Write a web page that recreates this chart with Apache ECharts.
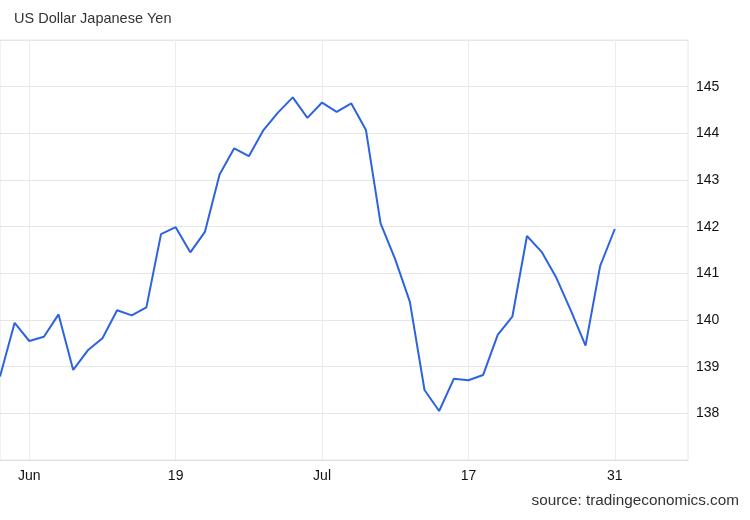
<!DOCTYPE html>
<html>
<head>
<meta charset="utf-8">
<script src="https://cdn.jsdelivr.net/npm/echarts@6/dist/echarts.min.js"></script>
<style>
  html, body { margin: 0; padding: 0; background: #fff; }
  #chart { width: 750px; height: 520px; }
</style>
</head>
<body>
<div id="chart"></div>
<script>
// Trading days (2023), plus empty slots to the right of the last point
const categories = [
  '2023-06-01','2023-06-02',
  '2023-06-05','2023-06-06','2023-06-07','2023-06-08','2023-06-09',
  '2023-06-12','2023-06-13','2023-06-14','2023-06-15','2023-06-16',
  '2023-06-19','2023-06-20','2023-06-21','2023-06-22','2023-06-23',
  '2023-06-26','2023-06-27','2023-06-28','2023-06-29','2023-06-30',
  '2023-07-03','2023-07-04','2023-07-05','2023-07-06','2023-07-07',
  '2023-07-10','2023-07-11','2023-07-12','2023-07-13','2023-07-14',
  '2023-07-17','2023-07-18','2023-07-19','2023-07-20','2023-07-21',
  '2023-07-24','2023-07-25','2023-07-26','2023-07-27','2023-07-28',
  '2023-07-31',
  '2023-08-01','2023-08-02','2023-08-03','2023-08-04','2023-08-07'
];
const usdjpy = [
  138.79, 139.94,
  139.55, 139.64, 140.12, 138.93, 139.35,
  139.61, 140.21, 140.10, 140.27, 141.84,
  141.99, 141.45, 141.89, 143.12, 143.68,
  143.51, 144.07, 144.45, 144.77, 144.33,
  144.66, 144.46, 144.64, 144.07, 142.07,
  141.30, 140.39, 138.50, 138.05, 138.74,
  138.71, 138.82, 139.68, 140.07, 141.80,
  141.46, 140.91, 140.20, 139.45, 141.16,
  141.95
];
const tickDates = ['2023-06-05','2023-06-19','2023-07-03','2023-07-17','2023-07-31'];
const tickLabels = ['Jun','19','Jul','17','31'];
const yTicks = [138, 139, 140, 141, 142, 143, 144, 145];

const tickIdx = tickDates.map(d => categories.indexOf(d));
const isTick = (i) => tickIdx.indexOf(i) >= 0;

const chart = echarts.init(document.getElementById('chart'), null, { renderer: 'canvas' });
const FONT = 'Liberation Sans, Arial, sans-serif';
chart.setOption({
  animation: false,
  backgroundColor: '#ffffff',
  title: {
    text: 'US Dollar Japanese Yen',
    left: 9, top: 6,
    textStyle: { fontFamily: FONT, fontSize: 14.5, fontWeight: 'normal', color: '#333333' }
  },
  graphic: [{
    type: 'text', right: 11, top: 493,
    style: { text: 'source: tradingeconomics.com', fontFamily: FONT, fontSize: 15.3, fill: '#333333' }
  }],
  grid: {
    left: 0, right: 62, top: 40, bottom: 60,
    show: true, borderColor: '#e6e6e6', borderWidth: 1
  },
  xAxis: {
    type: 'category',
    data: categories,
    boundaryGap: false,
    axisLine: { show: true, lineStyle: { color: '#e0e0e0', width: 1 } },
    axisTick: { show: false },
    axisLabel: {
      interval: (i) => isTick(i),
      formatter: (v) => { const k = tickDates.indexOf(v); return k >= 0 ? tickLabels[k] : ''; },
      margin: 9,
      fontFamily: FONT, fontSize: 14, color: '#111111'
    },
    splitLine: { show: true, interval: (i) => isTick(i), lineStyle: { color: '#ececec', width: 1 } }
  },
  yAxis: {
    type: 'value',
    position: 'right',
    min: 137, max: 146, interval: 1,
    axisLine: { show: false },
    axisTick: { show: false },
    axisLabel: {
      margin: 8,
      formatter: (v) => yTicks.indexOf(v) >= 0 ? String(v) : '',
      fontFamily: FONT, fontSize: 14, color: '#111111'
    },
    splitLine: { show: true, lineStyle: { color: '#e6e6e6', width: 1 } }
  },
  series: [{
    type: 'line',
    data: usdjpy,
    symbol: 'none',
    lineStyle: { color: '#2d63e0', width: 2 },
    clip: true
  }]
});
</script>
</body>
</html>
